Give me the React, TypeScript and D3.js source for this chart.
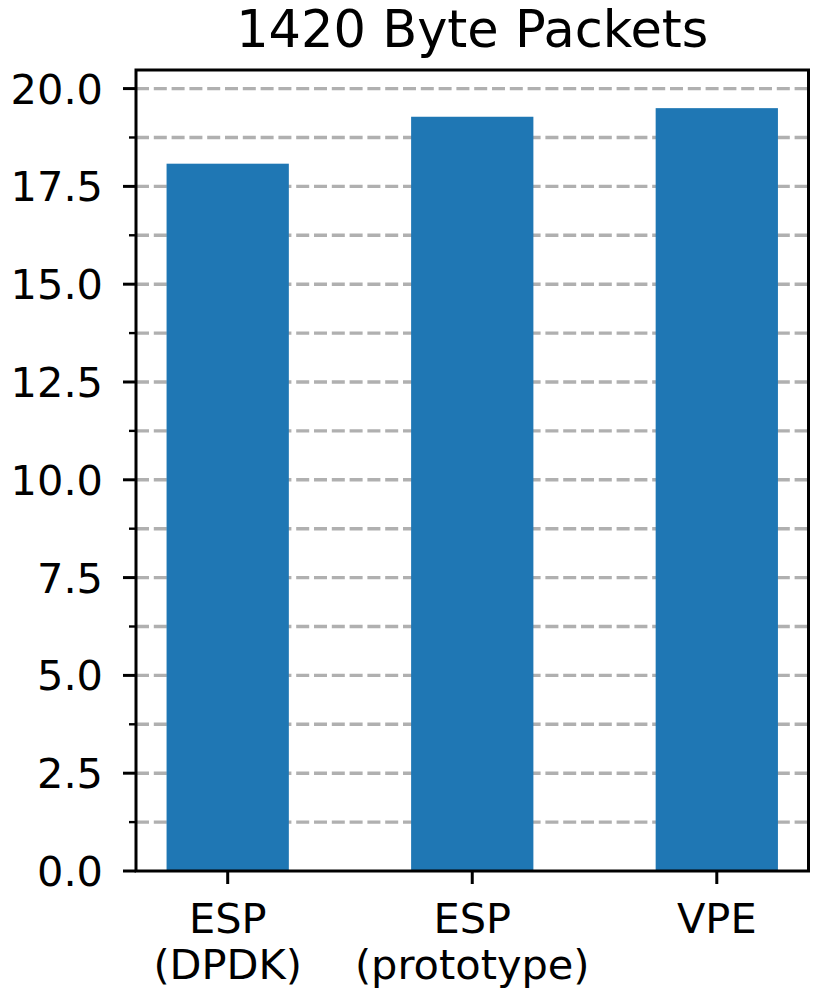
import React from "react";
import * as d3 from "d3";

const categories: string[][] = [["ESP", "(DPDK)"], ["ESP", "(prototype)"], ["VPE"]];
const values: number[] = [18.08, 19.28, 19.5];
const majorTicks: number[] = [0, 2.5, 5, 7.5, 10, 12.5, 15, 17.5, 20];
const minorTicks: number[] = [1.25, 3.75, 6.25, 8.75, 11.25, 13.75, 16.25, 18.75];
const title = "1420 Byte Packets";

const W = 819;
const H = 988;
const left = 136;
const right = 808.5;
const top = 70;
const bottom = 871;
const font = "'DejaVu Sans', sans-serif";
const fs = 41.5;

export default function App() {
  const x = d3.scaleLinear().domain([-0.375, categories.length - 1 + 0.375]).range([left, right]);
  const y = d3.scaleLinear().domain([0, 20.475]).range([bottom, top]);
  const bw = x(0.5) - x(0);
  const grid = [...majorTicks, ...minorTicks].filter((t) => t > 0);
  return (
    <svg width={W} height={H} style={{ position: "absolute", left: 0, top: 0 }} fontFamily={font}>
      <rect x={0} y={0} width={W} height={H} fill="#fff" />
      {grid.map((t) => (
        <line key={"g" + t} x1={left} x2={right} y1={y(t)} y2={y(t)} stroke="#b0b0b0" strokeWidth={3.4} strokeDasharray="13,4.8" />
      ))}
      {values.map((v, i) => (
        <rect key={"b" + i} x={x(i) - bw / 2} y={y(v)} width={bw} height={y(0) - y(v)} fill="#1f77b4" />
      ))}
      <rect x={left} y={top} width={right - left} height={bottom - top} fill="none" stroke="#000" strokeWidth={3} />
      {majorTicks.map((t) => (
        <g key={"m" + t}>
          <line x1={left - 13} x2={left} y1={y(t)} y2={y(t)} stroke="#000" strokeWidth={3} />
          <text x={103} y={y(t)} dy="0.36em" textAnchor="end" fontSize={fs} fill="#000">
            {t.toFixed(1)}
          </text>
        </g>
      ))}
      {minorTicks.map((t) => (
        <line key={"n" + t} x1={left - 7} x2={left} y1={y(t)} y2={y(t)} stroke="#000" strokeWidth={2.4} />
      ))}
      {categories.map((c, i) => (
        <g key={"c" + i}>
          <line x1={x(i)} x2={x(i)} y1={bottom} y2={bottom + 13} stroke="#000" strokeWidth={3} />
          {c.map((s, j) => (
            <text key={j} x={x(i)} y={933 + j * 46} textAnchor="middle" fontSize={fs} fill="#000">
              {s}
            </text>
          ))}
        </g>
      ))}
      <text x={(left + right) / 2} y={47} textAnchor="middle" fontSize={51} fill="#000">
        {title}
      </text>
    </svg>
  );
}
